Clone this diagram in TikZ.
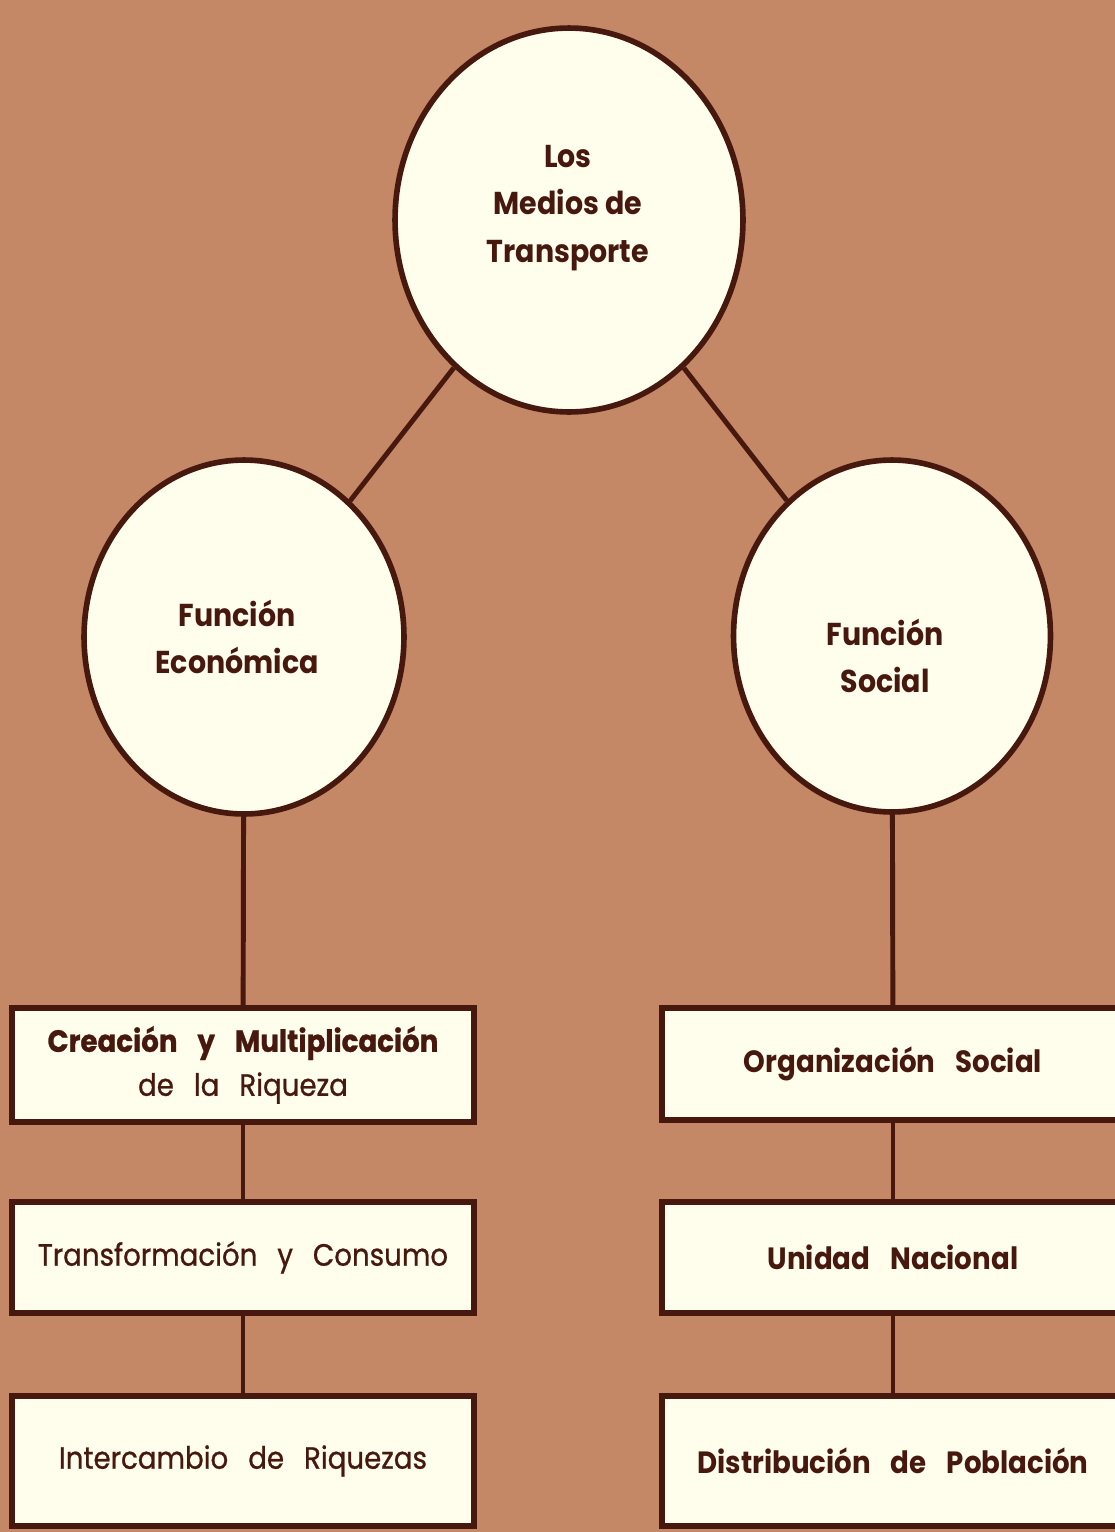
\documentclass[tikz,border=0pt]{standalone}
\usepackage{fontspec}
\setmainfont{Poppins}[FakeStretch = 0.9]
\newfontfamily\medfont{Poppins}[FakeStretch = 0.9, FakeBold = 0.8]
\usetikzlibrary{shapes.geometric}
\definecolor{paper}{RGB}{196,136,102}
\definecolor{cream}{RGB}{255,253,236}
\definecolor{ink}{RGB}{70,24,14}
\newcommand{\wide}{\spaceskip = 0.65em plus 0.1em\relax}
\begin{document}
\begin{tikzpicture}[x = 0.02cm, y = -0.02cm,
		bubble/.style = {ellipse, draw = ink, line width = 3.2pt, fill = cream, inner sep = 0pt},
		bubbletext/.style = {text = ink, align = center, font = \bfseries\fontsize{18}{27}\selectfont},
		panel/.style = {rectangle, draw = ink, line width = 3.2pt, fill = cream, minimum width = 9.24cm, inner sep = 0pt, text = ink, align = center, font = \medfont\fontsize{17.5}{25}\selectfont\wide},
		boldpanel/.style = {panel, font = \bfseries\fontsize{17.5}{25}\selectfont\wide},
		link/.style = {ink, line width = 2.8pt}]
	\fill [paper] (0, 0) rectangle (1115, 1532);
	\clip (0, 0) rectangle (1115, 1532);
	\node [bubble, minimum width = 6.96cm, minimum height = 7.68cm] (medios) at (569, 220) {};
	\node [bubble, minimum width = 6.4cm, minimum height = 7.08cm] (economica) at (244, 637) {};
	\node [bubble, minimum width = 6.34cm, minimum height = 7.04cm] (social) at (892, 636) {};
	\node [bubbletext] (mediosText) at (568, 208) {Los\\Medios de\\Transporte};
	\node [bubbletext] (economicaText) at (237, 637) {Función\\Económica};
	\node [bubbletext] (socialText) at (885, 656) {Función\\Social};
	\node [panel, minimum height = 2.28cm] (creacion) at (243, 1065) {{\bfseries\wide Creación y Multiplicación}\\de la Riqueza};
	\node [panel, minimum height = 2.22cm] (transformacion) at (243, 1257.5) {Transformación y Consumo};
	\node [panel, minimum height = 2.6cm] (intercambio) at (243, 1461) {Intercambio de Riquezas};
	\node [boldpanel, minimum height = 2.24cm] (organizacion) at (893, 1064) {Organización Social};
	\node [boldpanel, minimum height = 2.22cm] (unidad) at (893, 1257.5) {Unidad Nacional};
	\node [boldpanel, minimum height = 2.6cm] (distribucion) at (893, 1461) {Distribución de Población};
	\draw [link] (medios) -- (economica);
	\draw [link] (medios) -- (social);
	\draw [link] (economica) -- (creacion);
	\draw [link] (creacion) -- (transformacion);
	\draw [link] (transformacion) -- (intercambio);
	\draw [link] (social) -- (organizacion);
	\draw [link] (organizacion) -- (unidad);
	\draw [link] (unidad) -- (distribucion);
\end{tikzpicture}
\end{document}
